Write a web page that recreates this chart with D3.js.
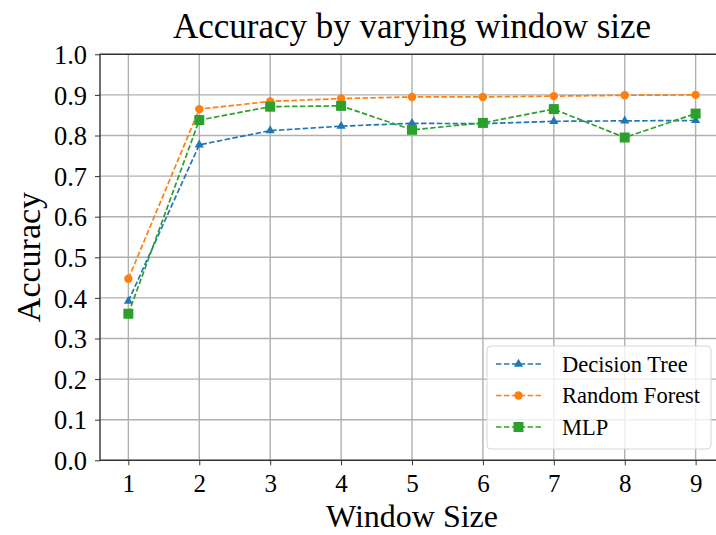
<!DOCTYPE html>
<html>
<head>
<meta charset="utf-8">
<script src="https://cdn.jsdelivr.net/npm/d3@7"></script>
<style>
  html, body { margin: 0; padding: 0; background: #fff; }
  svg { display: block; }
  text { font-family: "Liberation Serif", "DejaVu Serif", serif; fill: #000; }
</style>
</head>
<body>
<svg id="chart" width="716" height="535"></svg>
<script>
// Window sizes evaluated
const windowSizes = [1, 2, 3, 4, 5, 6, 7, 8, 9];

// Accuracy per model
const decisionTree = [0.392, 0.777, 0.812, 0.823, 0.830, 0.829, 0.835, 0.836, 0.837];
const randomForest = [0.447, 0.865, 0.884, 0.891, 0.895, 0.895, 0.897, 0.899, 0.900];
const mlp          = [0.361, 0.838, 0.871, 0.873, 0.814, 0.831, 0.865, 0.795, 0.854];

const seriesNames = ["Decision Tree", "Random Forest", "MLP"];
const yTicks = [0.0, 0.1, 0.2, 0.3, 0.4, 0.5, 0.6, 0.7, 0.8, 0.9, 1.0];

const series = [
  { name: seriesNames[0], values: decisionTree, color: "#1f77b4", marker: "triangle" },
  { name: seriesNames[1], values: randomForest, color: "#ff7f0e", marker: "circle" },
  { name: seriesNames[2], values: mlp,          color: "#2ca02c", marker: "square" }
];

const svg = d3.select("#chart");
const plotLeft = 100, plotRight = 724, plotTop = 54.3, plotBottom = 460.3;

const x = d3.scaleLinear().domain([0.6, 9.4]).range([plotLeft, plotRight]);
const y = d3.scaleLinear().domain([0, 1]).range([plotBottom, plotTop]);

// grid
const grid = svg.append("g");
grid.selectAll("line.gx").data(windowSizes).enter().append("line")
  .attr("x1", d => x(d)).attr("x2", d => x(d))
  .attr("y1", plotTop).attr("y2", plotBottom)
  .attr("stroke", "#b0b0b0").attr("stroke-width", 1.4);
grid.selectAll("line.gy").data(yTicks).enter().append("line")
  .attr("x1", plotLeft).attr("x2", plotRight)
  .attr("y1", d => y(d)).attr("y2", d => y(d))
  .attr("stroke", "#b0b0b0").attr("stroke-width", 1.4);

// axes
const xAxis = d3.axisBottom(x).tickValues(windowSizes).tickSize(5).tickPadding(9)
  .tickFormat(d3.format("d"));
const yAxis = d3.axisLeft(y).tickValues(yTicks).tickSize(5).tickPadding(8)
  .tickFormat(d3.format(".1f"));

const gx = svg.append("g").attr("transform", `translate(0,${plotBottom})`).call(xAxis);
const gy = svg.append("g").attr("transform", `translate(${plotLeft},0)`).call(yAxis);
[gx, gy].forEach(g => {
  g.select(".domain").remove();
  g.selectAll(".tick line").attr("stroke", "#333").attr("stroke-width", 1);
});
gx.selectAll(".tick text").style("font-size", "25px").attr("fill", "#000");
gy.selectAll(".tick text").style("font-size", "26.5px").attr("fill", "#000").attr("dy", "0.35em");

// frame
svg.append("rect").attr("x", plotLeft).attr("y", plotTop)
  .attr("width", plotRight - plotLeft).attr("height", plotBottom - plotTop)
  .attr("fill", "none").attr("stroke", "#333").attr("stroke-width", 1.4);

// lines and markers
const line = d3.line().x((d, i) => x(windowSizes[i])).y(d => y(d));

function drawMarker(g, kind, cx, cy, color) {
  if (kind === "circle") {
    g.append("circle").attr("cx", cx).attr("cy", cy).attr("r", 4.2).attr("fill", color);
  } else if (kind === "square") {
    g.append("rect").attr("x", cx - 5).attr("y", cy - 5).attr("width", 10).attr("height", 10).attr("fill", color);
  } else {
    const s = d3.symbol().type(d3.symbolTriangle).size(36);
    g.append("path").attr("d", s()).attr("transform", `translate(${cx},${cy})`).attr("fill", color);
  }
}

series.forEach(s => {
  const g = svg.append("g");
  g.append("path").datum(s.values).attr("d", line)
    .attr("fill", "none").attr("stroke", s.color).attr("stroke-width", 1.7)
    .attr("stroke-dasharray", "5.5,2.4");
  s.values.forEach((v, i) => drawMarker(g, s.marker, x(windowSizes[i]), y(v), s.color));
});

// legend
const lg = svg.append("g");
lg.append("rect").attr("x", 487).attr("y", 346).attr("width", 224).attr("height", 103)
  .attr("rx", 4).attr("fill", "#fff").attr("fill-opacity", 0.8)
  .attr("stroke", "#d6d6d6").attr("stroke-width", 1);
series.forEach((s, i) => {
  const yy = 364 + i * 31.5;
  lg.append("line").attr("x1", 496).attr("x2", 541).attr("y1", yy).attr("y2", yy)
    .attr("stroke", s.color).attr("stroke-width", 1.7).attr("stroke-dasharray", "5.5,2.4");
  drawMarker(lg, s.marker, 518.5, yy, s.color);
  lg.append("text").attr("x", 562).attr("y", yy).attr("dy", "0.35em")
    .style("font-size", "22.5px").text(s.name);
});

// titles
svg.append("text").attr("x", 412).attr("y", 38).attr("text-anchor", "middle")
  .style("font-size", "35px").text("Accuracy by varying window size");
svg.append("text").attr("x", 412).attr("y", 527).attr("text-anchor", "middle")
  .style("font-size", "32px").text("Window Size");
svg.append("text").attr("transform", `translate(40,257) rotate(-90)`).attr("text-anchor", "middle")
  .style("font-size", "34px").text("Accuracy");
</script>
</body>
</html>
